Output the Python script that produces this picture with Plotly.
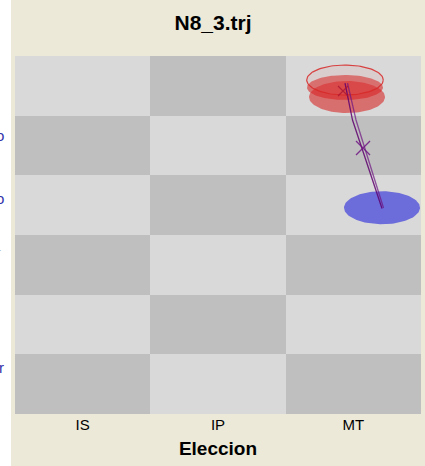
import numpy as np
import plotly.graph_objects as go

# ---------------- data ----------------
columns = ["IS", "IP", "MT"]
col_pos = [0, 1, 2]
row_centers = [0.5, 1.5, 2.5, 3.5, 4.5, 5.5]
# checkerboard: 1 = dark cell, 0 = light cell (rows from bottom)
checker = [[1 if (r + c) % 2 == 0 else 0 for c in range(3)] for r in range(6)]

# ellipses (data units): centre x, centre y, semi-axis x, semi-axis y
ell_names = ["red_low", "red_high", "red_outline", "blue"]
ell_cx = [1.9532, 1.9385, 1.9385, 2.2119]
ell_cy = [5.3126, 5.4718, 5.5975, 3.4574]
ell_rx = [0.2808, 0.2808, 0.2830, 0.2808]
ell_ry = [0.2681, 0.2095, 0.2514, 0.2765]

# trajectory lines (two runs)
traj1_x = [1.9385, 1.9939, 2.2119]
traj1_y = [5.547, 4.927, 3.444]
traj2_x = [1.9570, 2.0198, 2.2230]
traj2_y = [5.547, 4.927, 3.452]

# markers
mark_x = [2.0715, 1.9237]
mark_y = [4.458, 5.413]

left_labels = ["o", "o", "-", "r"]
left_label_y = [0.779, 0.603, 0.458, 0.1285]

# ---------------- figure ----------------
BEIGE = "#ECE9D8"
FONT = "Liberation Sans, Arial"
fig = go.Figure()

fig.add_trace(go.Heatmap(
    x=col_pos, y=row_centers, z=checker,
    colorscale=[[0, "#d9d9d9"], [1, "#bfbfbf"]],
    showscale=False, hoverinfo="skip", zmin=0, zmax=1,
))

NOLINE = dict(width=0, color="rgba(0,0,0,0)")
styles = {
    "red_outline": dict(line=dict(color="rgba(215,40,40,0.85)", width=1.2),
                        fillcolor="rgba(230,120,120,0.12)"),
    "red_high": dict(line=NOLINE, fillcolor="rgba(215,35,35,0.58)"),
    "red_low": dict(line=NOLINE, fillcolor="rgba(215,35,35,0.58)"),
    "blue": dict(line=NOLINE, fillcolor="rgb(108,108,218)"),
}
theta = np.linspace(0, 2 * np.pi, 121)
for name, cx, cy, rx, ry in zip(ell_names, ell_cx, ell_cy, ell_rx, ell_ry):
    fig.add_trace(go.Scatter(x=cx + rx * np.cos(theta), y=cy + ry * np.sin(theta),
                             mode="lines", fill="toself", showlegend=False,
                             hoverinfo="skip", **styles[name]))

fig.add_trace(go.Scatter(x=traj1_x, y=traj1_y, mode="lines",
                         line=dict(color="rgba(95,0,110,0.85)", width=1.3),
                         showlegend=False, hoverinfo="skip"))
fig.add_trace(go.Scatter(x=traj2_x, y=traj2_y, mode="lines",
                         line=dict(color="rgba(110,20,130,0.7)", width=1.3),
                         showlegend=False, hoverinfo="skip"))
fig.add_trace(go.Scatter(x=mark_x[:1], y=mark_y[:1], mode="markers",
                         marker=dict(symbol="x-thin", size=14,
                                     line=dict(color="rgba(110,20,130,0.85)", width=1.3)),
                         showlegend=False, hoverinfo="skip"))
fig.add_trace(go.Scatter(x=mark_x[1:], y=mark_y[1:], mode="markers",
                         marker=dict(symbol="x-thin", size=10,
                                     line=dict(color="rgba(170,20,50,0.8)", width=1.2)),
                         showlegend=False, hoverinfo="skip"))

# white strip at the left edge
fig.add_shape(type="rect", xref="paper", yref="paper",
              x0=-0.06, x1=(11 - 15) / 406, y0=-0.2, y1=1.2,
              fillcolor="white", line=dict(width=0), layer="below")

for t, yv in zip(left_labels, left_label_y):
    gray = t == "-"
    fig.add_annotation(xref="paper", yref="paper", x=(6 - 15) / 406 if not gray else (3 - 15) / 406,
                       y=yv, text=t, showarrow=False, xanchor="right", yanchor="middle",
                       font=dict(family=FONT, size=15 if not gray else 9,
                                 color="rgb(150,150,150)" if gray else "rgb(50,50,170)"))

fig.update_layout(
    width=425, height=466,
    margin=dict(l=15, r=4, t=56, b=52),
    paper_bgcolor=BEIGE, plot_bgcolor="#d9d9d9",
    title=dict(text="<b>N8_3.trj</b>", x=(213 - 15) / 406, xref="paper", xanchor="center",
               y=1 - 23 / 466, yref="container", yanchor="middle",
               font=dict(family=FONT, size=21, color="black")),
    xaxis=dict(range=[-0.5, 2.5], tickvals=col_pos, ticktext=columns,
               showgrid=False, zeroline=False, showline=False, ticks="",
               tickfont=dict(family=FONT, size=15, color="black"),
               title=dict(text="<b>Eleccion</b>", standoff=9,
                          font=dict(family=FONT, size=19, color="black"))),
    yaxis=dict(range=[0, 6], showgrid=False, zeroline=False, showline=False,
               showticklabels=False, ticks=""),
    showlegend=False,
)

fig.write_html("out.html", config={"displayModeBar": False},
               post_script="document.body.style.margin='0';document.body.style.overflow='hidden';")
